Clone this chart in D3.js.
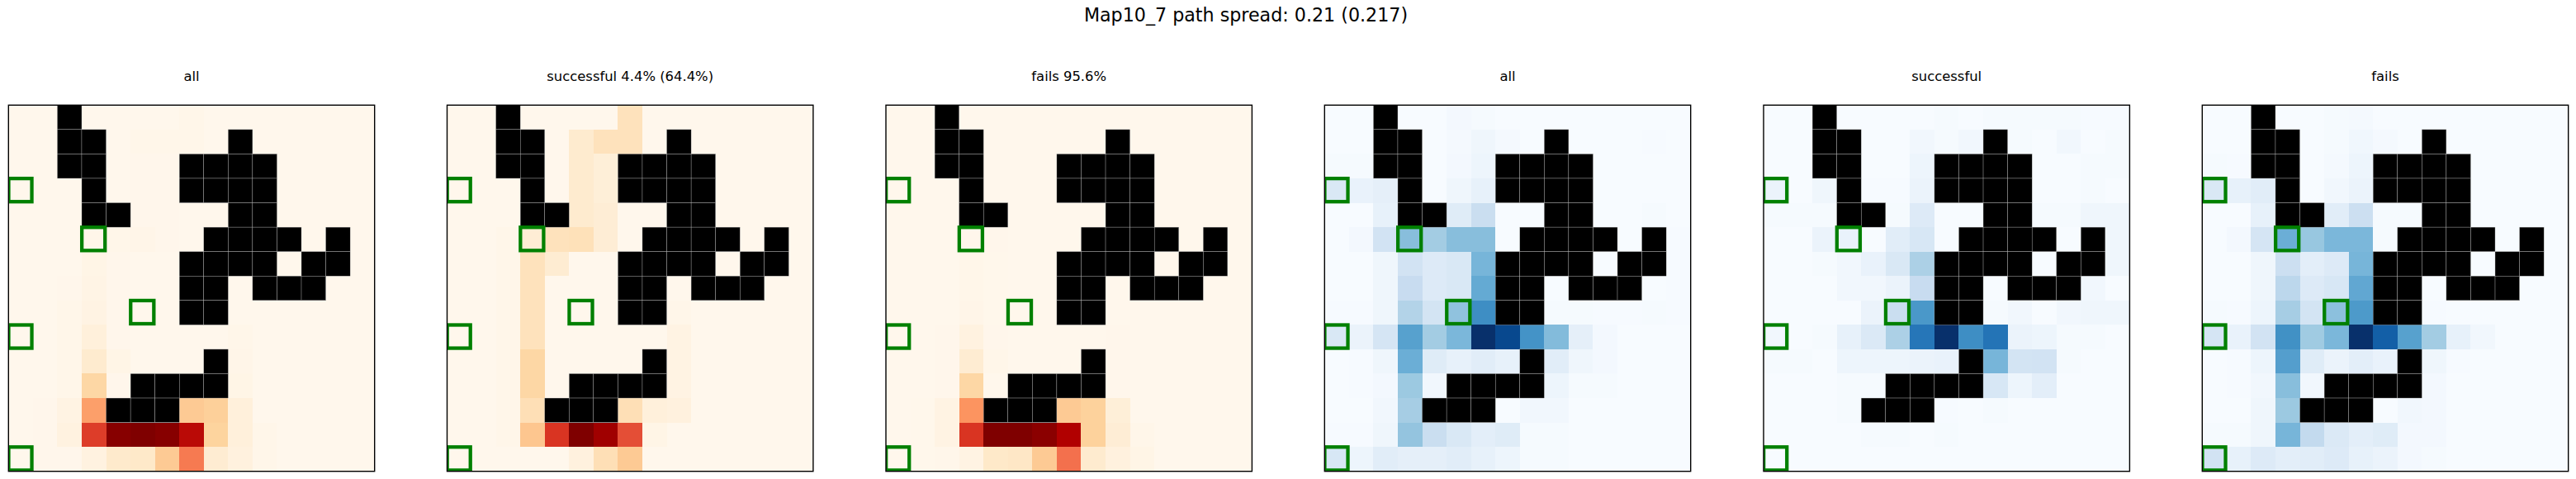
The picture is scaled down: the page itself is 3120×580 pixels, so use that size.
<!DOCTYPE html>
<html><head><meta charset="utf-8">
<script src="https://cdn.jsdelivr.net/npm/d3@7"></script>
<style>html,body{margin:0;padding:0;background:#fff}svg{display:block}text{font-family:"DejaVu Sans";fill:#000}</style>
</head><body><svg id="c" width="3120" height="580"></svg>
<script>
const n = null;
const allOr = [
[0,0,n,0,0,0,0,1,0,0,0,0,0,0,0],
[0,0,n,n,0,1,1,1,0,n,0,0,0,0,0],
[0,0,n,n,0,.5,.5,n,n,n,n,0,0,0,0],
[0,0,0,n,0,.5,.5,n,n,n,n,0,0,0,0],
[0,0,0,n,n,.5,.5,0,0,n,n,0,0,0,0],
[0,0,0,1,1,1.5,.5,0,n,n,n,n,0,n,0],
[0,0,0,2,.5,0,0,n,n,n,n,0,n,n,0],
[0,0,.5,2.5,.5,0,0,n,n,0,n,n,n,0,0],
[0,0,1,3,.5,0,0,n,n,0,0,0,0,0,0],
[0,0,1,6,.5,0,0,0,0,1,0,0,0,0,0],
[0,0,1,10,2,0,0,0,n,1.5,0,0,0,0,0],
[0,0,1,23,.5,n,n,n,n,2,0,0,0,0,0],
[0,.5,3,45,n,n,n,30,27,6,0,0,0,0,0],
[0,.5,4,72,98,100,98,85,25,6,1,0,0,0,0],
[0,.5,.5,4,11,12,30,56,9,5,1,0,0,0,0]];
const okOr = [
[0,0,n,0,0,0,0,16,0,0,0,0,0,0,0],
[0,0,n,n,0,10,16,16,0,n,0,0,0,0,0],
[0,0,n,n,0,10,7,n,n,n,n,0,0,0,0],
[0,0,0,n,0,10,7,n,n,n,n,0,0,0,0],
[0,0,0,n,n,10,8,0,0,n,n,0,0,0,0],
[0,0,1,8,16,17,8,0,n,n,n,n,0,n,0],
[0,0,1,16,9,0,0,n,n,n,n,0,n,n,0],
[0,0,1,16,0,0,0,n,n,0,n,n,n,0,0],
[0,0,1,16,0,0,0,n,n,1,0,0,0,0,0],
[0,0,1,16,0,0,0,0,0,3,0,0,0,0,0],
[0,0,1,23,0,0,0,0,n,3,0,0,0,0,0],
[0,0,1,23,0,n,n,n,n,3,0,0,0,0,0],
[0,0,1,18,n,n,n,18,6,5,0,0,0,0,0],
[0,0,1,32,74,100,92,68,2,0,0,0,0,0,0],
[0,0,0,0,0,5,18,30,0,0,0,0,0,0,0]];
const failOr = [
[0,0,n,0,0,0,0,0,0,0,0,0,0,0,0],
[0,0,n,n,0,0,0,0,0,n,0,0,0,0,0],
[0,0,n,n,0,0,0,n,n,n,n,0,0,0,0],
[0,0,0,n,0,0,0,n,n,n,n,0,0,0,0],
[0,0,0,n,n,0,0,0,0,n,n,0,0,0,0],
[0,0,0,.5,.5,0,0,0,n,n,n,n,0,n,0],
[0,0,0,1,.3,0,0,n,n,n,n,0,n,n,0],
[0,0,0,1,.3,0,0,n,n,0,n,n,n,0,0],
[0,0,0,1.5,.3,0,0,n,n,0,0,0,0,0,0],
[0,0,.5,4,.5,0,0,0,0,.5,0,0,0,0,0],
[0,0,.5,9,1,0,0,0,n,.5,0,0,0,0,0],
[0,0,.5,23,0,n,n,n,n,.5,0,0,0,0,0],
[0,.3,3,48,n,n,n,30,26,7,0,0,0,0,0],
[0,.3,3,74,100,100,97,88,26,8,1,0,0,0,0],
[0,.2,.8,3,12,13,30,59,10,5,2,0,0,0,0]];
const allBl = [
[0,0,n,0,0,2,1,0,0,0,0,0,0,0,0],
[0,0,n,n,0,1.5,4,1.5,0,n,0,0,0,.5,0],
[1,1,n,n,0,2,5,n,n,n,n,0,0,0,0],
[15,7,9,n,0,4,8,n,n,n,n,0,0,0,0],
[0,0,8,n,n,12,23,0,0,n,n,0,0,1,0],
[0,2,19,43,36,43,43,0,n,n,n,n,0,n,.5],
[0,0,4,19,13,15,47,n,n,n,n,0,n,n,.5],
[0,0,4,24,13,15,52,n,n,0,n,n,n,0,.5],
[.5,.5,4,31,18,41,64,n,n,1,1,.5,.5,1,.5],
[15,6,17,56,36,46,100,91,62,44,9,2,0,0,0],
[0,.5,4,50,12,8,11,8,n,11,4,2,0,0,0],
[0,.5,2,38,3,n,n,n,n,5,1,1,0,0,0],
[0,0,3,35,n,n,n,0,3,3,0,0,0,0,0],
[.5,.5,4,40,23,15,10,12,1,1,0,0,0,0,0],
[16,5,11,9,9,11,8,5,1,1,0,0,0,0,0]];
const okBl = [
[0,0,n,0,0,0,0,1,0,1,1,1,1,.5,.5],
[0,0,n,n,0,0,3,1,3,n,1,0,3,0,1],
[0,0,n,n,0,0,5,n,n,n,n,0,0,1,1],
[6,0,4,n,.5,.5,6,n,n,n,n,0,0,1,0],
[1,1,1,n,n,1,13,0,0,n,n,1,1,4,4],
[0,0,6,7,0,11,16,0,n,n,n,n,0,n,4],
[0,0,1,3,7,15,33,n,n,n,n,0,n,n,4],
[0,0,0,3,3,6,24,n,n,0,n,n,n,3,0],
[0,0,0,0,6,23,60,n,n,1,3,0,3,4,4],
[3,0,1,8,14,33,73,100,64,74,6,5,1,1,0],
[1,1,0,5,5,5,6,7,n,47,18,19,1,0,0],
[0,0,0,1,1,n,n,n,n,16,5,10,0,0,0],
[0,0,0,1,n,n,n,.5,0,1,0,0,0,0,0],
[0,0,0,0,1,1,0,1,0,0,0,0,0,0,0],
[0,0,0,0,0,0,0,0,0,0,0,0,0,0,0]];
const failBl = [
[0,0,n,0,0,1,1.5,0,0,0,0,0,0,0,0],
[0,0,n,n,0,1,3.5,1.5,0,n,0,0,0,0,0],
[1,.5,n,n,0,1.5,5,n,n,n,n,0,0,0,0],
[15,8,11,n,0,3,6,n,n,n,n,0,0,0,0],
[0,0,8,n,n,11,22,1,1,n,n,0,0,0,0],
[0,2,17,50,39,46,46,1,n,n,n,n,0,n,0],
[0,0,4,22,10,13,47,n,n,n,n,0,n,n,0],
[0,0,4,28,13,16,53,n,n,0,n,n,n,0,0],
[1,.5,5,35,18,42,59,n,n,.5,0,0,0,0,0],
[17,7,19,63,37,46,100,82,56,36,8,3,0,0,0],
[0,.5,5,57,12,6,10,7,n,4,.5,0,0,0,0],
[0,.5,3,43,3,n,n,n,n,2,0,0,0,0,0],
[0,0,4,38,n,n,n,0,3,2,0,0,0,0,0],
[1,1,4,47,26,14,10,12,2,2,0,0,0,0,0],
[19,8,13,10,11,13,8,6,2,1,0,0,0,0,0]];
const targetCells = [[3,0],[5,3],[8,5],[9,0],[14,0]];
const suptitle = "Map10_7 path spread: 0.21 (0.217)";
const titles = ["all","successful 4.4% (64.4%)","fails 95.6%","all","successful","fails"];
const grids = [allOr,okOr,failOr,allBl,okBl,failBl];
const panelLefts = [10.3,541.5,1073,1604.3,2136,2667.3];
const oranges = d3.scaleSequential([0,100], d3.piecewise(d3.interpolateRgb, d3.schemeOrRd[9]));
const blues = d3.scaleSequential([0,100], d3.piecewise(d3.interpolateRgb, d3.schemeBlues[9]));
const cmaps = [oranges,oranges,oranges,blues,blues,blues];

const svg = d3.select("#c");
const W = 443.4, H = 443.4, topY = 127.3;
const idx = d3.range(15);
svg.append("text").attr("x",1509).attr("y",26).attr("text-anchor","middle").style("font-size","22.2px").text(suptitle);
grids.forEach((g,i)=>{
  const x = d3.scaleBand().domain(idx).range([0,W]);
  const y = d3.scaleBand().domain(idx).range([0,H]);
  const p = svg.append("g").attr("transform",`translate(${panelLefts[i]},${topY})`);
  const clipId = "clip"+i;
  p.append("clipPath").attr("id",clipId).append("rect").attr("width",W).attr("height",H);
  svg.append("text").attr("x",panelLefts[i]+W/2).attr("y",98.3).attr("text-anchor","middle").style("font-size","16.4px").text(titles[i]);
  const cells = g.flatMap((row,r)=>row.map((v,c)=>({r,c,v})));
  p.append("g").selectAll("rect").data(cells.filter(d=>d.v!==null)).join("rect")
    .attr("x",d=>x(d.c)).attr("y",d=>y(d.r)).attr("width",x.bandwidth()+.3).attr("height",y.bandwidth()+.3)
    .attr("fill",d=>cmaps[i](d.v)).attr("shape-rendering","crispEdges");
  p.append("g").selectAll("rect").data(cells.filter(d=>d.v===null)).join("rect")
    .attr("x",d=>x(d.c)).attr("y",d=>y(d.r)).attr("width",x.bandwidth()).attr("height",y.bandwidth())
    .attr("fill","#000").attr("stroke","#bbb").attr("stroke-width",.35);
  p.append("g").attr("clip-path",`url(#${clipId})`).selectAll("rect").data(targetCells).join("rect")
    .attr("x",d=>x(d[1])+x.bandwidth()*.005).attr("y",d=>y(d[0])+y.bandwidth()*.005)
    .attr("width",x.bandwidth()*.95).attr("height",y.bandwidth()*.95)
    .attr("fill","none").attr("stroke","#008000").attr("stroke-width",4.3);
  p.append("rect").attr("width",W).attr("height",H).attr("fill","none").attr("stroke","#000").attr("stroke-width",1.4);
});
</script></body></html>
